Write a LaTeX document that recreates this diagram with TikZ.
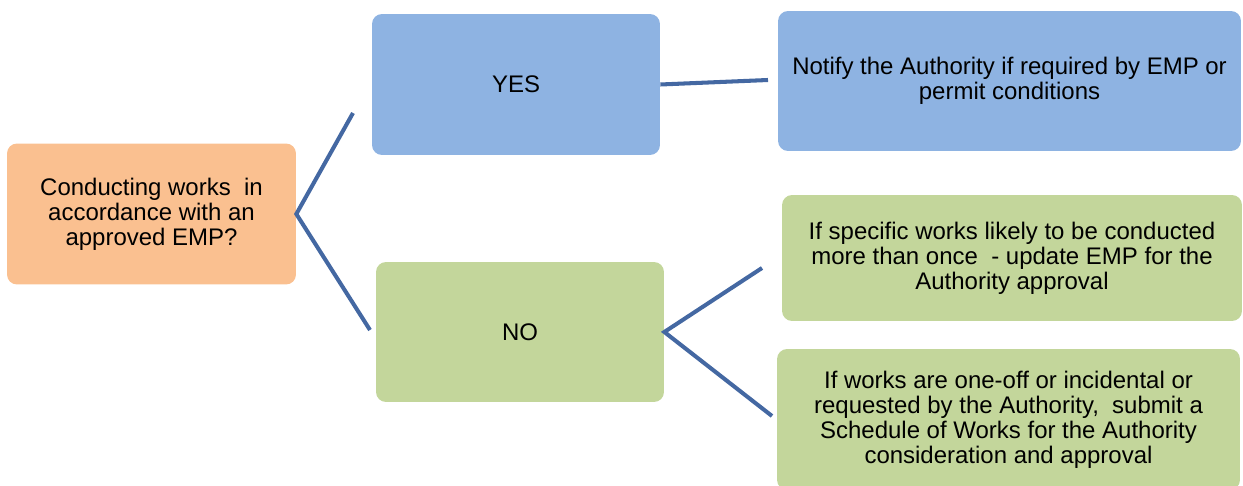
\documentclass[tikz,border=0pt]{standalone}
\usepackage{fontspec}
\setmainfont{Liberation Sans}
\usepackage{xcolor}
\usepackage{tikz}
\usetikzlibrary{positioning}
\definecolor{askorange}{HTML}{FAC090}
\definecolor{yesblue}{HTML}{8EB3E2}
\definecolor{nogreen}{HTML}{C3D69B}
\definecolor{linkblue}{HTML}{4468A2}

\tikzset{
  choicebox/.style={rounded corners=0.2cm,inner sep=0pt,align=center,
    font=\fontsize{13.65}{14.2}\selectfont},
  linkline/.style={draw=linkblue,line width=2.3pt}
}

\begin{document}
\begin{tikzpicture}[x=0.02cm,y=-0.02cm]
  \useasboundingbox (0,0) rectangle (1243,486);
  \node[choicebox,fill=askorange,minimum width=5.78cm,minimum height=2.82cm] (ask) at (151.5,214) {Conducting works\ \ in\\accordance with an\\approved EMP?};
  \node[choicebox,fill=yesblue,minimum width=5.76cm,minimum height=2.82cm] (yes) at (516,84.5) {YES};
  \node[choicebox,fill=nogreen,minimum width=5.76cm,minimum height=2.80cm] (no) at (520,332) {NO};
  \node[choicebox,fill=yesblue,minimum width=9.26cm,minimum height=2.80cm] (notify) at (1009.5,81) {Notify the Authority if required by EMP or\\permit conditions};
  \node[choicebox,fill=nogreen,minimum width=9.20cm,minimum height=2.52cm] (update) at (1012,258) {If specific works likely to be conducted\\more than once\ \ - update EMP for the\\Authority approval};
  \node[choicebox,fill=nogreen,minimum width=9.26cm,minimum height=2.82cm] (schedule) at (1008.5,419.5) {If works are one-off or incidental or\\requested by the Authority,\ \ submit a\\Schedule of Works for the Authority\\consideration and approval};
  % free ends of the connectors
  \coordinate (yesend) at (353,113);
  \coordinate (noend) at (370,330);
  \coordinate (notifyend) at (768,80);
  \coordinate (updateend) at (762,268);
  \coordinate (scheduleend) at (772,416);
  \draw[linkline] (yesend) -- (ask.east) -- (noend);
  \draw[linkline] (yes.east) -- (notifyend);
  \draw[linkline] (updateend) -- (no.east) -- (scheduleend);
\end{tikzpicture}
\end{document}
